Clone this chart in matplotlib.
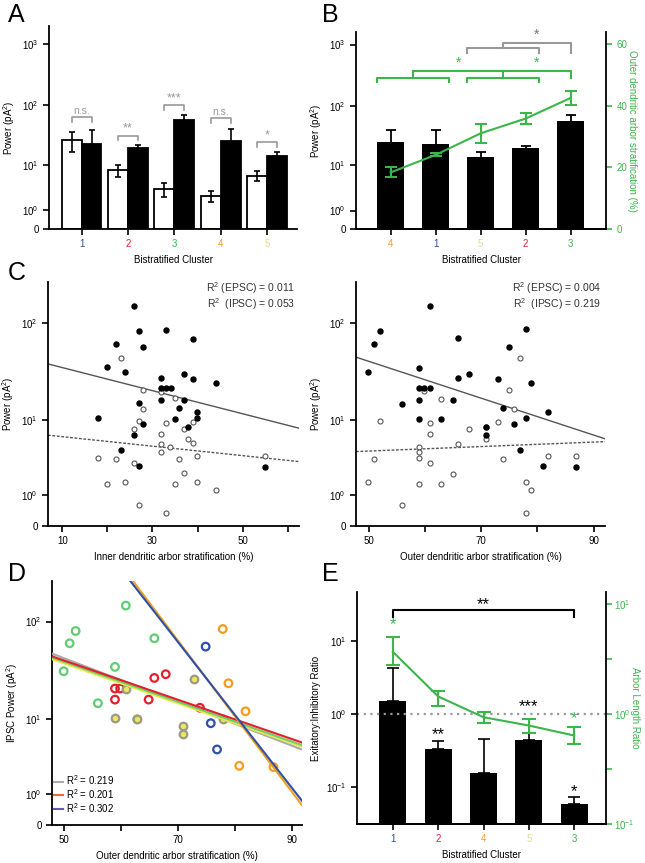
import numpy as np
import matplotlib
matplotlib.use('Agg')
import matplotlib.pyplot as plt
from matplotlib.ticker import FixedLocator, NullLocator, FixedFormatter
from matplotlib.lines import Line2D

plt.rcParams['font.family'] = ['Liberation Sans', 'DejaVu Sans']
plt.rcParams['mathtext.default'] = 'regular'
plt.rcParams['font.size'] = 7
plt.rcParams['axes.linewidth'] = 1.3

# ---- data ----
clusters = ['1', '2', '3', '4', '5']
cluster_colors = {'1': '#2f4c9c', '2': '#e3202c', '3': '#3cb54a', '4': '#f29c1f', '5': '#dedc90'}

# A: power per cluster (white = EPSC, black = IPSC)
epsc_power = [26.4, 7.9, 3.45, 2.43, 6.3]
epsc_sem = [9.5, 2.0, 1.1, 0.7, 1.3]
ipsc_power = [23.2, 19.8, 56.8, 25.4, 14.1]
ipsc_sem = [16.6, 1.9, 13.7, 14.9, 2.8]
sig_a = ['n.s.', '**', '***', 'n.s.', '*']

# B: clusters ordered by outer stratification
b_order = ['4', '1', '5', '2', '3']
outer_strat = [18.4, 24.1, 31.1, 35.9, 42.6]
outer_strat_sem = [1.6, 0.5, 3.0, 1.7, 2.2]

# C left: inner stratification
inner_x_ipsc = [25.9, 26.9, 32.9, 21.9, 38.9, 27.9, 19.9, 23.9, 31.9, 36.9, 38.9, 44.0, 31.9, 33.0, 34.0,
                31.9, 36.9, 26.9, 35.9, 39.9, 34.9, 17.9, 39.9, 27.9, 37.9, 25.9, 22.9, 26.9, 55.0]
inner_y_ipsc = [147, 82.4, 85, 61.5, 68.5, 56.5, 35.8, 32.3, 27.7, 30.4, 27.2, 24.4, 21.7, 21.7, 21.7,
                16.6, 16.4, 15.2, 13.5, 12.4, 10.3, 10.5, 10.5, 9.2, 8.55, 6.9, 4.6, 2.94, 2.79]
inner_x_epsc = [22.9, 27.9, 31.9, 34.9, 27.9, 26.9, 32.9, 38.9, 36.9, 25.9, 31.9, 37.9, 38.9, 31.9, 33.9,
                31.9, 17.9, 21.9, 35.9, 39.9, 55.0, 25.9, 36.9, 23.9, 19.9, 34.9, 39.9, 44.0, 26.9, 32.9]
inner_y_epsc = [44.8, 21, 20, 17.1, 13.2, 9.9, 9.4, 9.6, 8.0, 8.0, 7.15, 6.27, 5.59, 5.5, 5.07,
                4.33, 3.72, 3.58, 3.58, 3.87, 3.9, 3.22, 2.31, 1.7, 1.58, 1.62, 1.74, 1.27, 0.6, 0.33]
inner_fit_ipsc = (-0.01137, 1.675)   # slope, intercept of log10(power+1)
inner_fit_epsc = (-0.00467, 0.927)
inner_r2 = ['0.011', '0.053']

# C right: outer stratification
outer_x_ipsc = [60.9, 51.95, 78.0, 50.9, 65.9, 74.9, 58.9, 49.9, 67.9, 65.9, 72.9, 78.9, 58.9, 59.9, 60.9,
                55.9, 58.9, 64.9, 73.9, 81.9, 58.9, 62.9, 77.9, 75.9, 70.9, 70.9, 76.9, 80.9, 86.9]
outer_y_ipsc = [147, 82.4, 86.3, 61.5, 69.6, 56.5, 35.5, 32.3, 30.4, 27.7, 27.2, 24.4, 21.7, 21.7, 21.7,
                15.1, 16.6, 16.4, 13.5, 12.4, 10.4, 10.3, 10.5, 9.2, 8.5, 6.9, 4.6, 2.94, 2.79]
outer_x_epsc = [76.9, 74.9, 59.9, 62.9, 75.9, 51.95, 60.9, 72.9, 67.9, 70.9, 60.9, 70.9, 65.9, 58.9, 58.9,
                50.9, 58.9, 73.9, 81.9, 86.9, 60.9, 64.9, 49.9, 58.9, 62.9, 77.9, 78.9, 55.9, 77.9]
outer_y_epsc = [44.8, 21, 20.5, 17.0, 13.2, 9.9, 9.4, 9.6, 8.0, 8.4, 7.15, 6.27, 5.5, 5.0, 4.33,
                3.58, 3.72, 3.58, 3.87, 3.9, 3.22, 2.28, 1.7, 1.58, 1.62, 1.74, 1.27, 0.6, 0.33]
outer_fit_ipsc = (-0.01819, 2.533)
outer_fit_epsc = (0.002215, 0.628)
outer_r2 = ['0.004', '0.219']

# D: IPSC power vs outer stratification, by cluster
d_x = {'3': [60.9, 52.1, 51.05, 50.0, 65.9, 59.0, 56.0, 62.9],
       '2': [59.0, 59.9, 59.0, 65.9, 67.9, 64.9, 73.9],
       '5': [61.0, 59.0, 62.9, 70.9, 70.9, 72.9, 77.9],
       '1': [74.9, 75.8, 76.9],
       '4': [77.9, 78.9, 81.9, 80.8, 86.8]}
d_y = {'3': [144, 80.5, 60.7, 31.7, 68.1, 35.1, 14.85, 10.0],
       '2': [21.1, 21.1, 16.2, 27.1, 29.6, 16.2, 13.3],
       '5': [21.1, 10.3, 10.0, 8.42, 6.8, 26.7, 10.2],
       '1': [56.2, 9.07, 4.55],
       '4': [84.3, 23.9, 12.2, 2.83, 2.72]}
d_fits = {'all': (-0.02155, 2.722), '5': (-0.01968, 2.577), '3': (-0.01966, 2.592),
          '2': (-0.01936, 2.590), '4': (-0.0745, 7.034), '1': (-0.0719, 6.839)}
d_r2 = ['0.219', '0.201', '0.302']

# E: excitatory/inhibitory ratio
e_order = ['1', '2', '4', '5', '3']
ei_ratio = [1.49, 0.337, 0.154, 0.442, 0.0593]
ei_err_top = [4.28, 0.433, 0.456, 0.556, 0.073]
arbor_ratio = [3.67, 1.44, 0.933, 0.784, 0.636]
arbor_lo = [2.76, 1.19, 0.823, 0.677, 0.531]
arbor_hi = [4.99, 1.63, 1.03, 0.895, 0.768]

GREEN = '#3cb54a'
GREY = '#999999'


def log1p_fwd(v):
    v = np.asarray(v, dtype=float)
    return np.log10(np.maximum(v, -0.99) + 1)


def log1p_inv(v):
    return 10 ** np.asarray(v, dtype=float) - 1


def power_axis(ax, top):
    ax.set_yscale('function', functions=(log1p_fwd, log1p_inv))
    ax.set_ylim(0, top)
    ticks = [t for t in [0, 1, 10, 100, 1000] if t <= top]
    labs = ['0', '$10^0$', '$10^1$', '$10^2$', '$10^3$'][:len(ticks)]
    ax.yaxis.set_major_locator(FixedLocator(ticks))
    ax.yaxis.set_major_formatter(FixedFormatter(labs))
    ax.yaxis.set_minor_locator(NullLocator())


def style(ax):
    for s in ['top', 'right']:
        ax.spines[s].set_visible(False)
    ax.tick_params(direction='out', length=4, width=1.2, labelsize=7)


def color_xticks(ax, order):
    ax.set_xticks(range(len(order)))
    ax.set_xticklabels(order)
    for lab, c in zip(ax.get_xticklabels(), order):
        lab.set_color(cluster_colors[c])


fig = plt.figure(figsize=(6.45, 8.63), dpi=100)

# ---- A ----
axA = fig.add_axes([0.076, 0.7346, 0.3845, 0.2352])
style(axA)
x = np.arange(len(clusters))
w = 0.43
axA.bar(x - w / 2, epsc_power, w, color='white', edgecolor='black', linewidth=1.3,
        yerr=epsc_sem, capsize=2.5, error_kw=dict(lw=1.2, capthick=1.2))
axA.bar(x + w / 2, ipsc_power, w, color='black', edgecolor='black', linewidth=1.3,
        yerr=ipsc_sem, capsize=2.5, error_kw=dict(lw=1.2, capthick=1.2))
power_axis(axA, 1950)
axA.set_xlim(-0.70, 4.64)
color_xticks(axA, clusters)
axA.set_xlabel('Bistratified Cluster', fontsize=7)
axA.set_ylabel('Power (pA$^2$)', fontsize=7)
bracket_h = [1.816, 1.514, 2.011, 1.80, 1.405]
for i, (h, s) in enumerate(zip(bracket_h, sig_a)):
    xs = [i - w / 2, i - w / 2, i + w / 2, i + w / 2]
    ys = log1p_inv([h - 0.076, h, h, h - 0.076])
    axA.plot(xs, ys, color=GREY, lw=1.2)
    axA.text(i, log1p_inv(h + 0.015), s, ha='center', va='bottom', color=GREY,
             fontsize=9 if s != 'n.s.' else 7.5)

# ---- B ----
axB = fig.add_axes([0.552, 0.7346, 0.3876, 0.2283])
style(axB)
b_idx = [clusters.index(c) for c in b_order]
b_vals = [ipsc_power[i] for i in b_idx]
b_sem = [ipsc_sem[i] for i in b_idx]
bw = 0.59
axB.bar(range(5), b_vals, bw, color='black', yerr=b_sem, capsize=3.5,
        error_kw=dict(lw=1.3, capthick=1.3))
power_axis(axB, 1600)
axB.set_xlim(-0.77, 4.785)
color_xticks(axB, b_order)
axB.set_xlabel('Bistratified Cluster', fontsize=7)
axB.set_ylabel('Power (pA$^2$)', fontsize=7)
axB2 = axB.twinx()
for s in ['top', 'left']:
    axB2.spines[s].set_visible(False)
axB2.spines['right'].set_linewidth(1.3)
axB2.errorbar(range(5), outer_strat, yerr=outer_strat_sem, color=GREEN, lw=1.5,
              capsize=4, capthick=1.5)
axB2.set_ylim(0, 64)
axB2.set_yticks([0, 20, 40, 60])
axB2.tick_params(axis='y', colors=GREEN, direction='out', length=4, width=1.2, labelsize=7)
axB2.set_ylabel('Outer dendritic arbor stratification (%)', color=GREEN, fontsize=7,
                rotation=270, labelpad=7)
hb = bw / 2
# green brackets
for a, b in [(0, 1), (2, 3)]:
    axB2.plot([a - hb, a - hb, b + hb, b + hb], [47.8, 49.2, 49.2, 47.8], color=GREEN, lw=1.5)
    axB2.plot([(a + b) / 2] * 2, [49.2, 51.3], color=GREEN, lw=1.5)
axB2.plot([0.5, 2.5, 4, 4], [51.3, 51.3, 51.3, 49.2], color=GREEN, lw=1.5)
axB2.text(1.5, 51.8, '*', color=GREEN, ha='center', va='bottom', fontsize=10)
axB2.text(3.25, 51.8, '*', color=GREEN, ha='center', va='bottom', fontsize=10)
# grey bracket
axB2.plot([2 - hb, 2 - hb, 3 + hb, 3 + hb], [57.2, 58.8, 58.8, 57.2], color=GREY, lw=1.5)
axB2.plot([2.5, 2.5, 4, 4], [58.8, 60.5, 60.5, 57.2], color=GREY, lw=1.5)
axB2.text(3.25, 60.9, '*', color='#777777', ha='center', va='bottom', fontsize=10)


# ---- C ----
def scatter_panel(rect, xi, yi, xe, ye, fit_i, fit_e, xlim, xticks, xlabs, xlabel, r2):
    ax = fig.add_axes(rect)
    style(ax)
    ax.scatter(xe, ye, s=13, facecolor='white', edgecolor='#555555', linewidth=0.8, zorder=3)
    ax.scatter(xi, yi, s=13, color='black', zorder=3)
    xx = np.linspace(xlim[0], xlim[1], 50)
    ax.plot(xx, log1p_inv(fit_i[0] * xx + fit_i[1]), color='#555555', lw=1.0)
    ax.plot(xx, log1p_inv(fit_e[0] * xx + fit_e[1]), color='#555555', lw=1.0, ls=(0, (2, 1.2)))
    power_axis(ax, 253)
    ax.set_xlim(*xlim)
    ax.set_xticks(xticks)
    ax.set_xticklabels(xlabs)
    ax.set_xlabel(xlabel, fontsize=7)
    ax.set_ylabel('Power (pA$^2$)', fontsize=7)
    ax.text(0.985, 0.977, 'R$^2$ (EPSC) = ' + r2[0], transform=ax.transAxes, ha='right',
            va='center', fontsize=7.5, color='#333333')
    ax.text(0.985, 0.911, 'R$^2$  (IPSC) = ' + r2[1], transform=ax.transAxes, ha='right',
            va='center', fontsize=7.5, color='#333333')
    return ax


scatter_panel([0.0744, 0.3905, 0.389, 0.2827], inner_x_ipsc, inner_y_ipsc, inner_x_epsc,
              inner_y_epsc, inner_fit_ipsc, inner_fit_epsc, (6.8, 62.5),
              [10, 20, 30, 40, 50, 60], ['10', '', '30', '', '50', ''],
              'Inner dendritic arbor stratification (%)', inner_r2)
scatter_panel([0.552, 0.3905, 0.386, 0.2827], outer_x_ipsc, outer_y_ipsc, outer_x_epsc,
              outer_y_epsc, outer_fit_ipsc, outer_fit_epsc, (47.75, 92.0),
              [50, 60, 70, 80, 90], ['50', '', '70', '', '90'],
              'Outer dendritic arbor stratification (%)', outer_r2)

# ---- D ----
axD = fig.add_axes([0.0806, 0.044, 0.3876, 0.2827])
style(axD)
d_point_colors = {'3': '#62cc73', '2': '#e3202c', '1': '#2f4fa8', '4': '#f29c1f'}
for c in ['3', '2', '5', '1', '4']:
    if c == '5':
        axD.scatter(d_x[c], d_y[c], s=30, facecolor='#efe65a', edgecolor='#9a9a8a',
                    linewidth=1.6, zorder=3)
    else:
        axD.scatter(d_x[c], d_y[c], s=30, facecolor='none', edgecolor=d_point_colors[c],
                    linewidth=1.6, zorder=3)
xlimD = (47.95, 91.8)
xx = np.linspace(xlimD[0], xlimD[1], 200)
line_colors = {'all': '#aaaaaa', '5': '#e8e84a', '3': '#6ccf6a', '2': '#e3202c',
               '4': '#f2a11f', '1': '#3050a8'}
for k in ['all', '5', '3', '2', '4', '1']:
    sl, ic = d_fits[k]
    axD.plot(xx, log1p_inv(sl * xx + ic), color=line_colors[k], lw=1.5, zorder=4)
power_axis(axD, 252)
axD.set_xlim(*xlimD)
axD.set_xticks([50, 60, 70, 80, 90])
axD.set_xticklabels(['50', '', '70', '', '90'])
axD.set_xlabel('Outer dendritic arbor stratification (%)', fontsize=7)
axD.set_ylabel('IPSC Power (pA$^2$)', fontsize=7)
handles = [Line2D([], [], color='#aaaaaa', lw=1.5), Line2D([], [], color='#e86a3a', lw=1.5),
           Line2D([], [], color='#6a58b8', lw=1.5)]
axD.legend(handles, ['R$^2$ = ' + r for r in d_r2], loc='lower left', bbox_to_anchor=(0.0, 0.035),
           frameon=False, fontsize=7, handlelength=0.9, handletextpad=0.3, labelspacing=0.0,
           borderpad=0.1, borderaxespad=0.1)

# ---- E ----
axE = fig.add_axes([0.5535, 0.0452, 0.386, 0.2688])
style(axE)
e_bottom = 0.0313
e_vals = np.array(ei_ratio)
e_up = np.array(ei_err_top) - e_vals
axE.bar(range(5), e_vals - e_bottom, 0.6, bottom=e_bottom, color='black',
        yerr=[np.zeros(5), e_up], capsize=4, error_kw=dict(lw=1.2, capthick=1.2))
axE.set_yscale('log')
axE.set_ylim(e_bottom, 46.6)
axE.set_xlim(-0.79, 4.7)
axE.yaxis.set_major_locator(FixedLocator([0.1, 1, 10]))
axE.yaxis.set_major_formatter(FixedFormatter(['$10^{-1}$', '$10^0$', '$10^1$']))
axE.yaxis.set_minor_locator(NullLocator())
color_xticks(axE, e_order)
axE.set_xlabel('Bistratified Cluster', fontsize=7)
axE.set_ylabel('Exitatory:Inhibitory Ratio', fontsize=7)
axE.axhline(1, color=GREY, ls=(0, (1, 2)), lw=1.6, zorder=1)
axE.plot([0, 0, 4, 4], [21.2, 26.7, 26.7, 21.2], color='black', lw=1.5)
axE.text(2, 31, '**', ha='center', va='center', fontsize=12)
axE.text(1, 0.53, '**', ha='center', va='center', fontsize=12)
axE.text(3, 1.27, '***', ha='center', va='center', fontsize=12)
axE.text(4, 0.088, '*', ha='center', va='center', fontsize=12)
axE2 = axE.twinx()
for s in ['top', 'left']:
    axE2.spines[s].set_visible(False)
axE2.spines['right'].set_linewidth(1.3)
ar = np.array(arbor_ratio)
axE2.errorbar(range(5), ar, yerr=[ar - np.array(arbor_lo), np.array(arbor_hi) - ar],
              color=GREEN, lw=1.5, capsize=5, capthick=1.5)
axE2.set_yscale('log')
axE2.set_ylim(0.1, 12.8)
axE2.yaxis.set_major_locator(FixedLocator([0.1, 1, 10]))
axE2.yaxis.set_major_formatter(FixedFormatter(['$10^{-1}$', '$10^0$', '$10^1$']))
axE2.yaxis.set_minor_locator(FixedLocator([10 ** -0.5, 10 ** 0.5]))
axE2.tick_params(axis='y', which='both', colors=GREEN, direction='out', length=4, width=1.2,
                 labelsize=7, pad=2)
axE2.set_ylabel('Arbor Length Ratio', color=GREEN, fontsize=7, rotation=270, labelpad=4)
axE2.text(0, 6.5, '*', color=GREEN, ha='center', va='center', fontsize=12)
axE2.text(4, 0.9, '*', color=GREEN, ha='center', va='center', fontsize=12)

# panel letters
for lab, px, py in [('A', 8, 15), ('B', 322, 15), ('C', 8, 273), ('D', 8, 574), ('E', 322, 574)]:
    fig.text(px / 645, 1 - py / 863, lab, fontsize=18, ha='left', va='center')

fig.savefig('out.png', dpi=100)
